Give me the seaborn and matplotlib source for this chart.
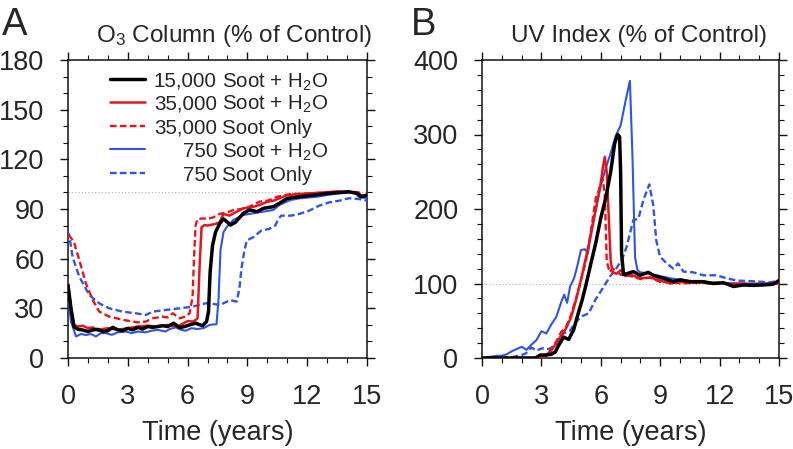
import matplotlib
matplotlib.use("Agg")
import matplotlib.pyplot as plt
from matplotlib.lines import Line2D
from matplotlib.ticker import MultipleLocator
import seaborn as sns

# ---------------- data ----------------
# Panel A: O3 column (% of control)
A_t_black = [0, 0.15, 0.3, 0.5, 0.7, 1.0, 1.25, 1.5, 1.75, 2.0, 2.25, 2.5, 2.75, 3.0, 3.25, 3.5, 3.75, 4.0, 4.25, 4.5,
             4.75, 5.0, 5.3, 5.6, 5.85, 6.1, 6.4, 6.75, 6.95, 7.05, 7.13, 7.25, 7.4, 7.6, 7.8, 8.0, 8.15, 8.4, 8.8, 9.1,
             9.5, 9.8, 10.3, 10.6, 11.0, 11.6, 12.3, 13.0, 13.6, 14.1, 14.5, 14.7, 15.0]
A_v_black = [44, 30, 19, 17.3, 17, 16, 17, 17.3, 16, 16.5, 18.5, 17, 16.5, 17.9, 17, 18.5, 17.5, 19, 18.5, 19,
             19.5, 19, 21, 18.3, 19, 20, 21, 19.5, 22, 28, 52, 68, 76, 81, 84, 82, 80.3, 82, 87.4, 89.4,
             88.4, 90.4, 91.4, 93.4, 96.4, 97.4, 98.4, 99.4, 100, 100.4, 99.4, 97.4, 98.4]

A_t_red = [0, 0.15, 0.3, 0.5, 0.75, 1.0, 1.25, 1.5, 1.75, 2.0, 2.5, 3.0, 3.5, 4.0, 4.5, 5.0, 5.5, 6.0, 6.3, 6.5,
           6.6, 6.7, 6.85, 7.0, 7.2, 7.4, 7.6, 7.8, 8.1, 8.4, 8.8, 9.2, 9.6, 10.0, 10.3, 10.6, 11.0, 11.6, 12.2, 12.8,
           13.4, 14.0, 14.5, 14.75, 15.0]
A_v_red = [45, 30, 20, 19, 19.5, 18, 18.5, 16.5, 17.5, 18, 17, 18, 19, 19.5, 19, 20, 19, 22.3, 22, 24,
           55, 79, 80.3, 80, 80.5, 81, 82, 87, 86, 88, 90.4, 91, 92.4, 94.4, 95, 96.4, 98.4, 99, 99.5, 100,
           100.5, 100.3, 100, 98, 98.5]

A_t_red_only = [0, 0.1, 0.3, 0.57, 0.9, 1.24, 1.57, 2.07, 2.57, 3.0, 3.5, 3.9, 4.25, 4.75, 5.0, 5.25, 5.6, 5.9, 6.1,
                6.25, 6.32, 6.4, 6.5, 6.8, 7.0, 7.3, 7.6, 8.0, 8.3, 8.7, 9.1, 9.6, 10.0, 10.5, 11.15, 11.7, 12.3,
                13.0, 13.6, 14.2, 14.6, 14.8, 15.0]
A_v_red_only = [74, 73.3, 70, 59, 45, 35, 28, 25, 23.6, 22.5, 21.5, 22, 24, 25, 24.5, 27, 24, 25, 27,
                37, 60, 80, 84, 84.3, 84, 85, 87, 88, 89.4, 90, 91.4, 94.4, 95, 97.4, 99, 99.3, 99.5,
                100, 100.5, 100.5, 100, 98, 98.5]

A_t_blue = [0, 0.15, 0.4, 0.65, 0.9, 1.15, 1.4, 1.65, 1.9, 2.2, 2.5, 2.9, 3.2, 3.5, 3.9, 4.2, 4.5, 4.9, 5.1, 5.4,
            5.7, 5.9, 6.2, 6.5, 6.8, 7.1, 7.45, 7.55, 7.65, 7.8, 7.97, 8.3, 8.8, 9.3, 9.8, 10.3, 10.6, 11.15, 11.6,
            12.5, 13.3, 14.1, 14.4, 14.6, 15.0]
A_v_blue = [38, 22, 13, 14.5, 13.9, 14.5, 13, 15, 15, 14, 15.5, 16, 15, 16, 15.5, 16.5, 17, 16, 17.5, 18.5,
            17, 16.5, 18, 17.5, 18, 20, 20.4, 35, 65, 76, 79.3, 83.4, 86.4, 87.4, 88.4, 89.4, 92.4, 95.4, 96.4,
            97.4, 99, 100, 99.5, 97.4, 96.4]

A_t_blue_only = [0, 0.05, 0.23, 0.57, 1.07, 1.57, 2.07, 2.74, 3.4, 3.9, 4.25, 4.9, 5.6, 6.25, 6.9, 7.13, 7.63, 8.13,
                 8.46, 8.6, 8.7, 8.85, 8.97, 9.3, 9.7, 10.1, 10.4, 10.55, 10.7, 11.2, 11.6, 12.1, 12.6, 13.1, 13.6,
                 14.1, 14.6, 15.0]
A_v_blue_only = [73, 75, 61, 49, 38, 33, 30, 28, 27, 26, 28, 29, 30, 31, 33, 33, 32, 35,
                 34, 42, 54, 65, 71, 73, 77, 78, 80, 84, 86, 86, 87, 89, 92, 94, 95,
                 96.5, 96, 95]

# Panel B: UV index (% of control)
B_t_black = [0, 2.7, 2.95, 3.2, 3.5, 3.7, 3.87, 4.12, 4.38, 4.63, 4.88, 5.05, 5.25, 5.5, 5.75, 6.0, 6.25, 6.5, 6.7,
             6.85, 6.95, 7.0, 7.05, 7.15, 7.3, 7.64, 7.98, 8.4, 8.65, 9.16, 9.66, 10.0, 10.5, 11.17, 11.68, 12.2,
             12.7, 13.2, 13.7, 14.2, 14.7, 15.0]
B_v_black = [0, 0, 4, 4, 5, 8, 17, 28, 25, 38, 62, 77, 98, 127, 155, 188, 215, 250, 288,
             300, 297, 250, 140, 112, 113, 116, 111, 115, 111, 107, 102.5, 105, 102.5, 102.5, 100, 101,
             96, 98, 97.5, 98, 99, 104]

B_t_red = [0, 3.0, 3.25, 3.5, 3.75, 4.0, 4.25, 4.5, 4.75, 5.0, 5.25, 5.5, 5.75, 6.0, 6.1, 6.2, 6.3, 6.4, 6.5, 6.6,
           6.8, 7.0, 7.25, 7.5, 8.0, 8.5, 9.0, 9.5, 10.0, 10.5, 11.0, 11.5, 12.0, 12.5, 13.0, 13.5, 14.0, 14.5, 15.0]
B_v_red = [0, 0, 4, 10, 20, 30, 40, 55, 78, 105, 135, 165, 200, 235, 255, 270, 250, 190, 130, 115,
           113, 118, 110, 112, 107, 108, 104, 100, 102, 101, 102, 100, 101, 99, 100, 99, 99, 99, 101]

B_t_red_only = [0, 3.0, 3.25, 3.5, 3.75, 4.0, 4.25, 4.5, 4.75, 5.0, 5.25, 5.5, 5.75, 5.9, 6.0, 6.1, 6.2, 6.3, 6.45,
                6.6, 7.0, 7.5, 8.0, 8.5, 9.0, 9.5, 10.0, 11.0, 12.0, 13.0, 14.0, 15.0]
B_v_red_only = [0, 0, 3, 12, 22, 35, 42, 58, 80, 105, 130, 170, 215, 225, 235, 240, 220, 130, 115,
                120, 112, 110, 106, 108, 102, 104, 100, 101, 100, 99, 99, 100]

B_t_blue = [0, 0.5, 0.75, 1.0, 1.25, 1.5, 1.75, 2.0, 2.25, 2.5, 2.75, 3.0, 3.25, 3.5, 3.75, 4.0, 4.15, 4.3, 4.45,
            4.65, 4.8, 5.0, 5.2, 5.35, 5.5, 5.75, 6.0, 6.25, 6.5, 6.75, 7.0, 7.25, 7.47, 7.6, 7.73, 7.85, 8.0, 8.5,
            9.0, 9.5, 10.0, 10.5, 11.0, 12.0, 13.0, 14.0, 15.0]
B_v_blue = [0, 2, 3, 3, 5, 9, 12, 15, 11, 18, 24, 36, 33, 45, 55, 75, 85, 74, 96,
            107, 122, 145, 146, 140, 170, 200, 232, 255, 275, 298, 312, 345, 372, 270, 135, 118, 115, 113,
            110, 107, 105, 103, 102, 101, 100, 100, 101]

B_t_blue_only = [0, 1.5, 2.0, 2.2, 2.5, 2.75, 3.03, 3.37, 3.7, 4.12, 4.46, 4.71, 5.05, 5.39, 5.72, 6.06, 6.48, 6.73,
                 7.07, 7.3, 7.64, 7.9, 8.15, 8.45, 8.65, 8.8, 8.99, 9.33, 9.66, 9.9, 10.17, 10.67, 11.17, 11.85,
                 12.36, 12.86, 13.7, 14.55, 15.0]
B_v_blue_only = [0, 1, 4, 6, 14, 10, 13, 12, 17, 33, 37, 48, 56, 60, 78, 92, 110, 118,
                 132, 149, 185, 187, 212, 233, 205, 158, 136, 127, 120, 127, 116, 115, 111, 111,
                 107, 104, 103, 101.5, 104]

legend_numbers = ["15,000", "35,000", "35,000", "750", "750"]
legend_rest = ["Soot + H$_2$O", "Soot + H$_2$O", "Soot Only", "Soot + H$_2$O", "Soot Only"]
xticks = [0, 3, 6, 9, 12, 15]
A_yticks = [0, 30, 60, 90, 120, 150, 180]
B_yticks = [0, 100, 200, 300, 400]

# ---------------- style ----------------
sns.set_style("white")
plt.rcParams["font.family"] = ["Liberation Sans", "DejaVu Sans"]
plt.rcParams["mathtext.fontset"] = "custom"
plt.rcParams["mathtext.rm"] = "Liberation Sans"
plt.rcParams["mathtext.it"] = "Liberation Sans:italic"
plt.rcParams["mathtext.bf"] = "Liberation Sans:bold"

BLACK = "#000000"
RED = "#e8141c"
BLUE = "#2f55e4"
DASH = (0, (2.8, 1.4))

styles = [  # color, linewidth, linestyle
    (BLACK, 2.5, "-"),
    (RED, 1.8, "-"),
    (RED, 1.7, DASH),
    (BLUE, 1.5, "-"),
    (BLUE, 1.7, DASH),
]

W, H = 793, 449
fig = plt.figure(figsize=(W / 100, H / 100), dpi=100)


def fx(px):
    return px / W


def fy(py):
    return 1 - py / H


axA = fig.add_axes([fx(68), fy(358), (367 - 68) / W, (358 - 60) / H])
axB = fig.add_axes([fx(482), fy(358), (779 - 482) / W, (358 - 60) / H])

A_series = [(A_t_black, A_v_black), (A_t_red, A_v_red), (A_t_red_only, A_v_red_only),
            (A_t_blue, A_v_blue), (A_t_blue_only, A_v_blue_only)]
B_series = [(B_t_black, B_v_black), (B_t_red, B_v_red), (B_t_red_only, B_v_red_only),
            (B_t_blue, B_v_blue), (B_t_blue_only, B_v_blue_only)]

draw_order = [4, 3, 2, 1, 0]

for ax, series, ymax, yticks, yminor in [(axA, A_series, 180, A_yticks, 10),
                                         (axB, B_series, 400, B_yticks, 20)]:
    ax.axhline(100, color="#b0b0b0", lw=0.8, ls=(0, (1, 2)), zorder=1)
    for i in draw_order:
        t, v = series[i]
        c, lw, ls = styles[i]
        sns.lineplot(x=t, y=v, ax=ax, color=c, linewidth=lw, linestyle=ls,
                     legend=False, zorder=3 + (4 - i))
    ax.set_xlim(0, 15)
    ax.set_ylim(0, ymax)
    ax.set_xticks(xticks)
    ax.set_yticks(yticks)
    ax.xaxis.set_minor_locator(MultipleLocator(1))
    ax.yaxis.set_minor_locator(MultipleLocator(yminor))
    ax.tick_params(which="both", direction="out", top=True, right=True, bottom=True, left=True,
                   labeltop=False, labelright=False, labelbottom=True, labelleft=True, color="#111111")
    ax.tick_params(which="major", length=6, width=1.0, labelsize=19.5)
    ax.tick_params(which="minor", length=3.5, width=0.8)
    ax.tick_params(axis="x", which="major", pad=13)
    ax.tick_params(axis="y", which="major", pad=11)
    for s in ax.spines.values():
        s.set_linewidth(1.1)
        s.set_color("#111111")
        s.set_visible(True)
    ax.set_xlabel("")
    ax.set_ylabel("")
    ax.set_facecolor("white")

# x labels
for cx in [(68 + 367) / 2, (482 + 779) / 2]:
    fig.text(fx(cx), fy(440), "Time (years)", ha="center", va="baseline", fontsize=19.5)

# titles
fig.text(fx(372), fy(42), "O$_3$ Column (% of Control)", ha="right", va="baseline", fontsize=17.5)
fig.text(fx(767), fy(42), "UV Index (% of Control)", ha="right", va="baseline", fontsize=17.5)

# panel letters
fig.text(fx(2), fy(35), "A", ha="left", va="baseline", fontsize=27.5)
fig.text(fx(411), fy(35), "B", ha="left", va="baseline", fontsize=27.5)

# legend (manual, to align the "Soot" column as in the original)
row_y = [79.3, 101.7, 126, 149.3, 173.3]
for i, py in enumerate(row_y):
    c, lw, ls = styles[i]
    ya = (358 - py) / 298
    axA.add_line(Line2D([(110 - 68) / 299, (145 - 68) / 299], [ya, ya], transform=axA.transAxes,
                        color=c, linewidth=lw, linestyle=ls, zorder=10))
    axA.text((217 - 68) / 299, ya, legend_numbers[i], transform=axA.transAxes,
             ha="right", va="center_baseline", fontsize=14.8)
    axA.text((222.5 - 68) / 299, ya, legend_rest[i], transform=axA.transAxes,
             ha="left", va="center_baseline", fontsize=14.8)

fig.savefig("out.png", dpi=100, facecolor="white")
